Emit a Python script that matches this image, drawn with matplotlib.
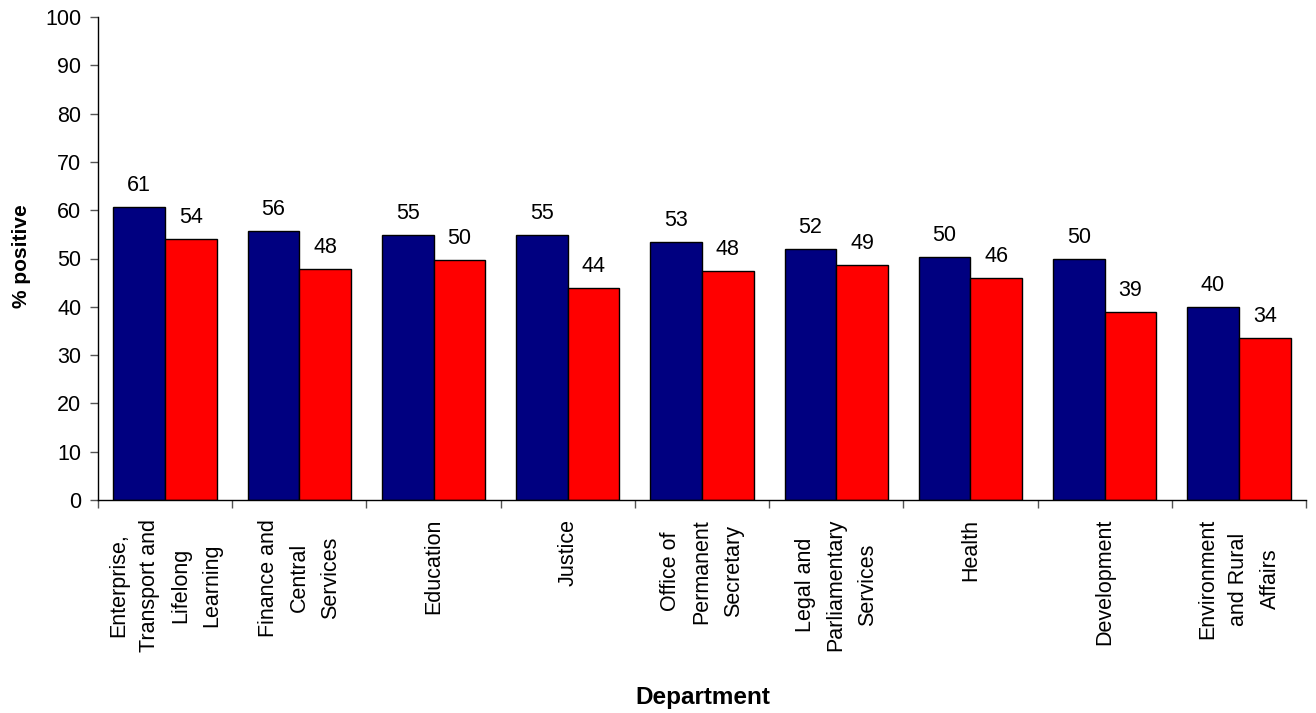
import matplotlib
matplotlib.use("Agg")
import matplotlib.pyplot as plt
import numpy as np

plt.rcParams['font.family'] = ['Liberation Sans', 'DejaVu Sans']

categories = [
    "Enterprise,\nTransport and\nLifelong\nLearning",
    "Finance and\nCentral\nServices",
    "Education",
    "Justice",
    "Office of\nPermanent\nSecretary",
    "Legal and\nParliamentary\nServices",
    "Health",
    "Development",
    "Environment\nand Rural\nAffairs",
]
series_blue = [60.7, 55.6, 54.9, 54.8, 53.4, 51.9, 50.4, 50.0, 39.9]
series_red = [54.0, 47.9, 49.7, 43.9, 47.5, 48.6, 46.0, 39.0, 33.6]
yticks = list(range(0, 101, 10))

W, H = 1316, 713
fig = plt.figure(figsize=(W / 100, H / 100), dpi=100)
ax = fig.add_axes([98 / W, (H - 500) / H, (1306 - 98) / W, (500 - 17) / H])

x = np.arange(len(categories))
bw = 0.385
b1 = ax.bar(x - bw / 2, series_blue, width=bw, color='#000080', edgecolor='black', linewidth=1.0)
b2 = ax.bar(x + bw / 2, series_red, width=bw, color='#FF0000', edgecolor='black', linewidth=1.0)

fs = 15.5
for bars, vals in ((b1, series_blue), (b2, series_red)):
    for rect, v in zip(bars, vals):
        ax.annotate(f"{round(v):d}", (rect.get_x() + rect.get_width() / 2, v),
                    xytext=(0, 11.5), textcoords='offset points',
                    ha='center', va='baseline', fontsize=fs)

ax.set_xlim(-0.5, len(categories) - 0.5)
ax.set_ylim(0, 100)
ax.set_yticks(yticks)
ax.set_yticklabels([str(t) for t in yticks], fontsize=fs)
ax.tick_params(axis='y', length=6, width=1, color='#555555', pad=6)

ax.set_xticks(x)
ax.set_xticklabels(categories, rotation=90, ha='center', va='top',
                   multialignment='center', fontsize=fs, linespacing=1.63)
ax.tick_params(axis='x', which='major', length=0, pad=13.5)
ax.set_xticks(np.arange(len(categories) + 1) - 0.5, minor=True)
ax.tick_params(axis='x', which='minor', length=5.5, width=1, color='#555555')

for s in ('top', 'right'):
    ax.spines[s].set_visible(False)
for s in ('left', 'bottom'):
    ax.spines[s].set_linewidth(1.0)

fig.text(22 / W, 1 - 256 / H, "% positive", rotation=90, ha='center', va='center',
         fontsize=15, fontweight='bold')
fig.text(703 / W, 1 - 704 / H, "Department", ha='center', va='baseline',
         fontsize=17.5, fontweight='bold')

fig.savefig("out.png", dpi=100)
